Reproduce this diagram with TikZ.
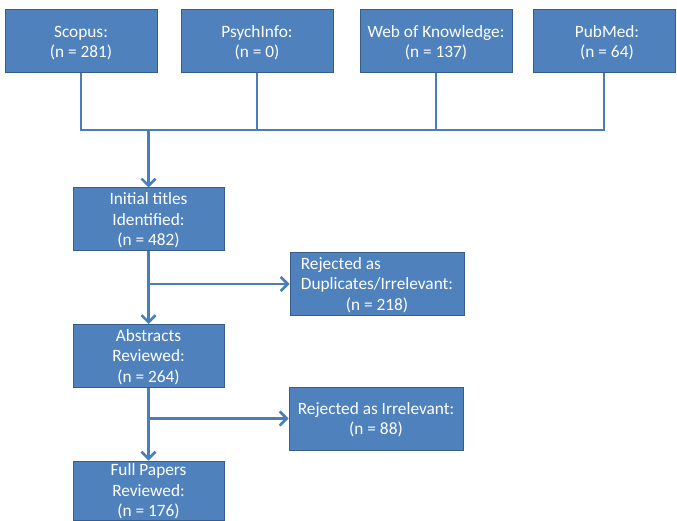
\documentclass[tikz,border=0pt]{standalone}
\usepackage{fontspec}
\setmainfont{Carlito}
\usetikzlibrary{arrows.meta}
\definecolor{boxfill}{HTML}{4F81BD}
\definecolor{boxline}{HTML}{385D8A}
\definecolor{conn}{HTML}{4A7EBB}
\begin{document}
\begin{tikzpicture}[x=1pt,y=-1pt,
  box/.style={draw=boxline, line width=1pt, fill=boxfill, text=white,
    align=center, inner sep=0pt, minimum height=63pt,
    font=\fontsize{17.3}{20.5}\selectfont},
  srcbox/.style={box, minimum width=152pt},
  stepbox/.style={box, minimum width=151pt},
  rejbox/.style={box, minimum width=174pt},
  conline/.style={draw=conn, line width=2pt},
  arrowline/.style={draw=conn, line width=2.5pt, -{Straight Barb[length=7pt,width=14pt,line width=2.5pt]}}]
\useasboundingbox (0,0) rectangle (677,521);
\fill[white] (0,0) rectangle (677,521);
% source boxes
\node[srcbox] (scopus) at (81,41.5) {\strut Scopus:\\(n = 281)};
\node[srcbox] (psych) at (257,41.5) {\strut PsychInfo:\\(n = 0)};
\node[srcbox] (wok) at (436,41.5) {\strut Web of Knowledge:\\(n = 137)};
\node[box, minimum width=142pt] (pubmed) at (604,41.5) {\strut\hspace*{6pt}PubMed:\\\hspace*{6pt}(n = 64)};
\coordinate (bus) at (148.5,130);
% process boxes
\node[stepbox] (initial) at (148.5,219.5) {\strut Initial titles\\Identified:\\(n = 482)};
\node[stepbox] (abstracts) at (148.5,356) {\strut Abstracts\\Reviewed:\\(n = 264)};
\node[stepbox, minimum height=59pt] (full) at (148.5,490.5) {\strut Full Papers\\Reviewed:\\(n = 176)};
\node[rejbox] (rej1) at (377,284) {\strut\rlap{Rejected as}\phantom{Duplicates/Irrelevant:}\\Duplicates/Irrelevant:\\(n = 218)};
\node[rejbox] (rej2) at (376,418.5) {\strut Rejected as Irrelevant:\\(n = 88)};
% connectors
\draw[conline] (scopus.south) |- (pubmed.south |- bus) -- (pubmed.south);
\draw[conline] (psych.south) -- (psych.south |- bus);
\draw[conline] (wok.south) -- (wok.south |- bus);
\draw[arrowline] (bus) -- (initial.north);
\draw[arrowline] (initial.south) -- (abstracts.north);
\draw[arrowline] (initial.south |- rej1.west) -- (rej1.west);
\draw[arrowline] (abstracts.south) -- (full.north);
\draw[arrowline] (abstracts.south |- rej2.west) -- (rej2.west);
\end{tikzpicture}
\end{document}
